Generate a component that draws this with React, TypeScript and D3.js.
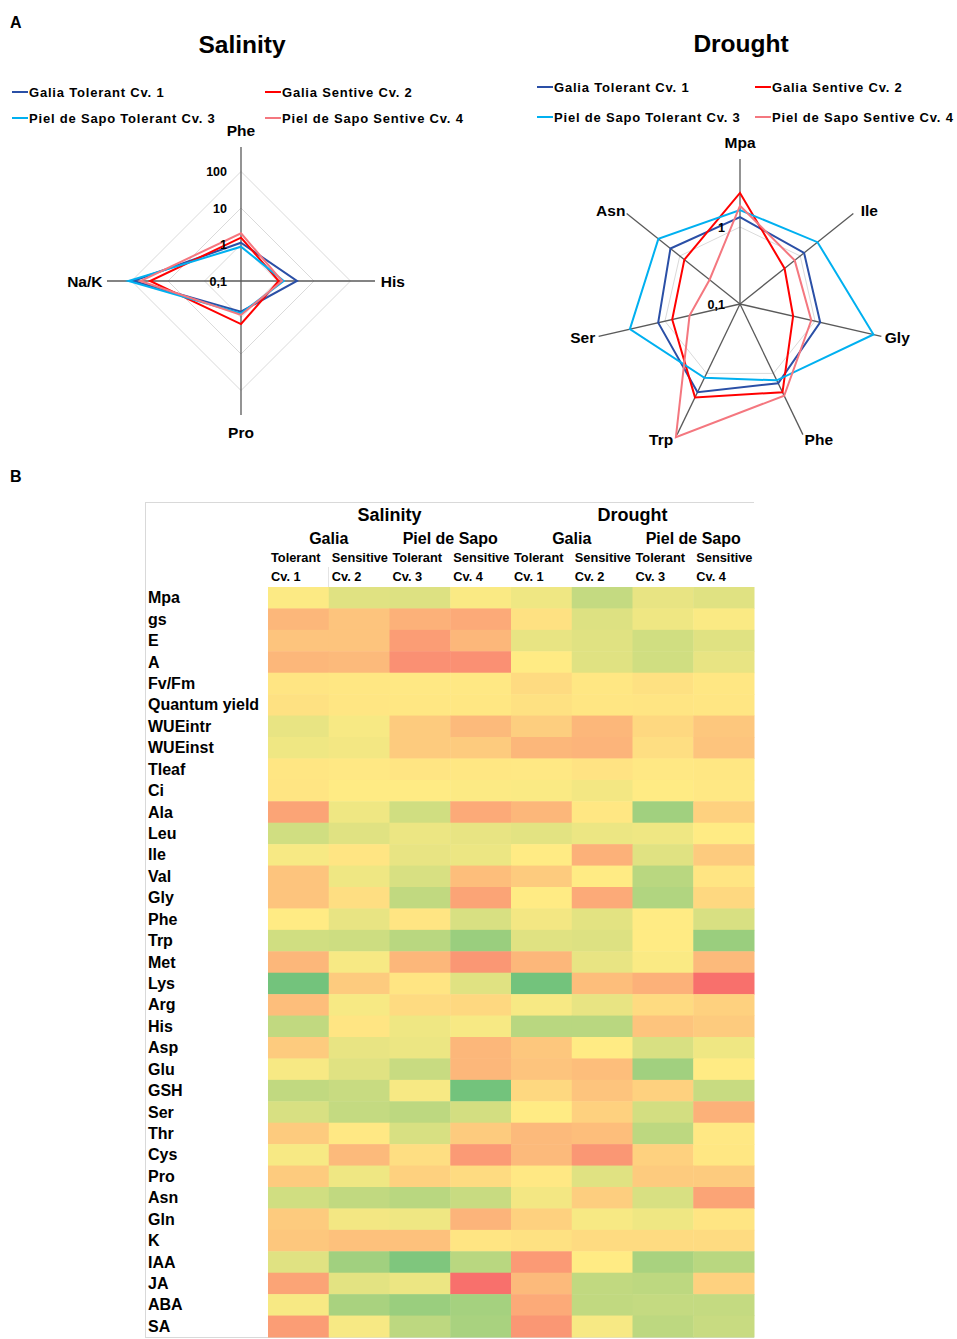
// React
import React from 'react';

// Installed Packages
import * as d3 from 'd3';

// ---- Panel A data (radar, log scale, 0.1 at the centre) ----
const seriesNames = [
    "Galia Tolerant Cv. 1",
    "Galia Sentive Cv. 2",
    "Piel de Sapo Tolerant Cv. 3",
    "Piel de Sapo Sentive Cv. 4",
];
const seriesColors = ["#2A4FA6", "#FF0000", "#00B0F0", "#F4777F"];

const salinityAxes = ["Phe", "His", "Pro", "Na/K"];
const salinityCv1 = [1.12, 3.42, 0.69, 90];
const salinityCv2 = [1.54, 1.08, 1.51, 31];
const salinityCv3 = [0.87, 1.48, 0.77, 121];
const salinityCv4 = [2.03, 1.33, 0.85, 57];
const salinityTicks = [0.1, 1, 10, 100];

const droughtAxes = ["Mpa", "Ile", "Gly", "Phe", "Trp", "Ser", "Asn"];
const droughtCv1 = [1.34, 1.16, 1.17, 1.39, 1.87, 1.23, 1.43];
const droughtCv2 = [2.77, 0.55, 0.51, 1.87, 2.22, 0.80, 0.84];
const droughtCv3 = [1.66, 1.94, 6.0, 1.26, 1.16, 2.93, 2.27];
const droughtCv4 = [1.89, 0.81, 0.89, 2.10, 8.3, 0.47, 0.32];
const droughtTicks = [0.1, 1];

// ---- Panel B data (heatmap, -1 = red, 0 = yellow, 1 = green) ----
const stresses = ["Salinity", "Drought"];
const varieties = ["Galia", "Piel de Sapo"];
const tolerance = ["Tolerant", "Sensitive"];
const cultivars = ["Cv. 1", "Cv. 2", "Cv. 3", "Cv. 4"];

const rowLabels = [
    "Mpa", "gs", "E", "A", "Fv/Fm", "Quantum yield", "WUEintr", "WUEinst", "Tleaf", "Ci",
    "Ala", "Leu", "Ile", "Val", "Gly", "Phe", "Trp", "Met", "Lys", "Arg", "His", "Asp",
    "Glu", "GSH", "Ser", "Thr", "Cys", "Pro", "Asn", "Gln", "K", "IAA", "JA", "ABA", "SA",
];

// columns: Salinity Cv1..Cv4, Drought Cv1..Cv4
const heatValues = [
    [0.02, 0.2, 0.22, 0.03, 0.1, 0.38, 0.15, 0.2],
    [-0.4, -0.3, -0.45, -0.5, -0.08, 0.22, 0.1, 0.03],
    [-0.3, -0.3, -0.6, -0.4, 0.15, 0.2, 0.3, 0.2],
    [-0.4, -0.38, -0.7, -0.7, 0.0, 0.2, 0.3, 0.15],
    [-0.05, -0.03, -0.02, -0.02, -0.12, -0.03, -0.08, -0.03],
    [-0.08, -0.04, -0.03, -0.03, -0.08, -0.04, -0.05, -0.04],
    [0.15, 0.05, -0.25, -0.38, -0.22, -0.4, -0.15, -0.28],
    [0.1, 0.08, -0.25, -0.25, -0.4, -0.42, -0.1, -0.3],
    [-0.04, -0.02, -0.05, -0.03, -0.02, -0.06, -0.02, -0.03],
    [-0.05, 0.0, 0.0, 0.02, 0.03, 0.08, 0.0, -0.02],
    [-0.55, 0.1, 0.3, -0.5, -0.4, -0.03, 0.6, -0.2],
    [0.3, 0.2, 0.12, 0.15, 0.18, 0.12, 0.1, 0.0],
    [0.05, -0.05, 0.15, 0.12, 0.0, -0.45, 0.2, -0.25],
    [-0.3, 0.1, 0.25, -0.35, -0.25, 0.0, 0.45, -0.05],
    [-0.3, -0.1, 0.4, -0.55, 0.0, -0.5, 0.5, -0.15],
    [0.0, 0.15, -0.05, 0.25, 0.08, 0.18, 0.0, 0.25],
    [0.3, 0.32, 0.45, 0.65, 0.2, 0.22, 0.0, 0.65],
    [-0.4, 0.05, -0.4, -0.65, -0.4, 0.15, 0.03, -0.38],
    [0.9, -0.25, -0.05, 0.2, 0.9, -0.35, -0.45, -0.95],
    [-0.35, 0.05, -0.12, -0.15, 0.05, 0.15, -0.12, -0.2],
    [0.4, -0.05, 0.1, 0.05, 0.45, 0.45, -0.3, -0.25],
    [-0.25, 0.15, 0.12, -0.4, -0.28, 0.0, 0.25, 0.1],
    [0.05, 0.2, 0.35, -0.4, -0.3, -0.35, 0.6, 0.0],
    [0.4, 0.35, 0.05, 0.9, -0.15, -0.3, -0.2, 0.35],
    [0.25, 0.38, 0.42, 0.28, 0.0, -0.2, 0.28, -0.45],
    [-0.25, -0.02, 0.25, -0.25, -0.38, -0.35, 0.42, -0.02],
    [0.05, -0.38, -0.1, -0.62, -0.38, -0.65, -0.2, -0.03],
    [-0.25, 0.1, -0.2, -0.12, -0.02, 0.2, -0.25, -0.25],
    [0.3, 0.4, 0.45, 0.35, 0.08, -0.22, 0.25, -0.55],
    [-0.25, 0.08, 0.1, -0.42, -0.2, 0.05, 0.1, -0.05],
    [-0.28, -0.32, -0.32, -0.05, -0.08, -0.12, -0.12, -0.12],
    [0.2, 0.6, 0.82, 0.45, -0.62, 0.0, 0.55, 0.45],
    [-0.55, 0.18, 0.12, -0.95, -0.38, 0.4, 0.42, -0.2],
    [0.05, 0.55, 0.65, 0.58, -0.5, 0.4, 0.38, 0.38],
    [-0.6, 0.05, 0.42, 0.55, -0.65, 0.05, 0.42, 0.35],
];

const FONT = '"Liberation Sans", Arial, Helvetica, sans-serif';

function Radar(props: {
    title: string,
    titleY: number,
    cx: number,
    cy: number,
    axes: string[],
    series: number[][],
    maxValue: number,
    maxRadius: number,
    axisLength: number,
    ticks: number[],
    tickX: number,
    labelR: number,
    labelPadX: number,
    labelPadY: number,
    topLift: number,
    legendX: [number, number],
    legendY: [number, number],
}) {
    const r = d3.scaleLog().domain([0.1, props.maxValue]).range([0, props.maxRadius]);
    const n = props.axes.length;
    const angle = (i: number) => (i * 2 * Math.PI) / n;
    const pt = (i: number, rad: number): [number, number] => [
        props.cx + rad * Math.sin(angle(i)),
        props.cy - rad * Math.cos(angle(i)),
    ];
    const line = d3.line<[number, number]>().curve(d3.curveLinearClosed);

    return (
        <g fontFamily={FONT} fontWeight="bold">
            <text x={props.cx + 1} y={props.titleY} textAnchor="middle" fontSize={24.5}>{props.title}</text>

            {/* legend */}
            {seriesNames.map((name, k) => {
                const x = props.legendX[k % 2];
                const y = props.legendY[Math.floor(k / 2)];
                return (
                    <g key={name}>
                        <line x1={x} x2={x + 16} y1={y} y2={y} stroke={seriesColors[k]} strokeWidth={2} />
                        <text x={x + 17} y={y + 4.5} fontSize={13} letterSpacing={0.8}>{name}</text>
                    </g>
                );
            })}

            {/* grid rings */}
            {props.ticks.filter(t => t > 0.1).map(t => (
                <path key={t} d={line(props.axes.map((_, i) => pt(i, r(t))))!}
                    fill="none" stroke="#DADADA" strokeWidth={1} />
            ))}

            {/* axes */}
            {props.axes.map((a, i) => {
                const [x2, y2] = pt(i, props.axisLength);
                return <line key={a} x1={props.cx} y1={props.cy} x2={x2} y2={y2} stroke="#5A5A5A" strokeWidth={1.3} />;
            })}

            {/* series */}
            {props.series.map((vals, k) => (
                <path key={k} d={line(vals.map((v, i) => pt(i, r(v))))!}
                    fill="none" stroke={seriesColors[k]} strokeWidth={2} strokeLinejoin="miter" />
            ))}

            {/* tick labels */}
            {props.ticks.map(t => (
                <text key={t} x={props.tickX} y={props.cy - r(t) + 4.5} textAnchor="end" fontSize={12.5}>
                    {String(t).replace('.', ',')}
                </text>
            ))}

            {/* axis labels */}
            {props.axes.map((a, i) => {
                const [x, y] = pt(i, props.labelR);
                const w = a.length * 8.6;
                const s = Math.sin(angle(i)), c = Math.cos(angle(i));
                const dx = Math.abs(s) > 0.3 ? Math.sign(s) * (w / 2 + props.labelPadX) : s * (w / 2);
                const dy = -c * props.labelPadY - (i === 0 ? props.topLift : 0);
                return (
                    <text key={a} x={x + dx} y={y + dy + 5.5} textAnchor="middle" fontSize={15.5}>{a}</text>
                );
            })}
        </g>
    );
}

function Heatmap() {
    const x = d3.scaleBand<number>().domain(d3.range(8)).range([268, 754]);
    const y = d3.scaleBand<string>().domain(rowLabels).range([587, 1337]);
    const color = d3.scaleLinear<string>().domain([-1, 0, 1])
        .range(["#F8696B", "#FFEB84", "#63BE7B"]).clamp(true);
    const bw = x.bandwidth();

    return (
        <g fontFamily={FONT} fontWeight="bold">
            <line x1={145.5} x2={145.5} y1={502} y2={1338} stroke="#D9D9D9" />
            <line x1={145} x2={754} y1={502.5} y2={502.5} stroke="#D9D9D9" />
            <line x1={145} x2={754} y1={1337.5} y2={1337.5} stroke="#D9D9D9" />
            <line x1={328.5} x2={328.5} y1={567} y2={587} stroke="#E4E4E4" />

            {stresses.map((s, i) => (
                <text key={s} x={x(i * 4)! + bw * 2} y={521} textAnchor="middle" fontSize={18}>{s}</text>
            ))}
            {d3.range(4).map(j => (
                <text key={j} x={x(j * 2)! + bw} y={544} textAnchor="middle" fontSize={16}>{varieties[j % 2]}</text>
            ))}
            {d3.range(8).map(j => (
                <g key={j}>
                    <text x={x(j)! + 3} y={561.5} fontSize={12.8}>{tolerance[j % 2]}</text>
                    <text x={x(j)! + 3} y={581} fontSize={12.8}>{cultivars[j % 4]}</text>
                </g>
            ))}

            {rowLabels.map((lab, i) => (
                <g key={lab}>
                    <text x={148} y={y(lab)! + y.bandwidth() / 2 + 5.5} fontSize={16}>{lab}</text>
                    {heatValues[i].map((v, j) => (
                        <rect key={j} x={x(j)} y={y(lab)} width={bw + 0.5} height={y.bandwidth() + 0.5}
                            fill={color(v)} />
                    ))}
                </g>
            ))}
        </g>
    );
}

export default function App() {
    return (
        <svg width={957} height={1339} style={{ position: 'absolute', left: 0, top: 0, background: '#fff' }}>
            <rect width={957} height={1339} fill="#fff" />
            <text x={10} y={28} fontFamily={FONT} fontWeight="bold" fontSize={16}>A</text>
            <text x={10} y={482} fontFamily={FONT} fontWeight="bold" fontSize={16}>B</text>

            <Radar
                title="Salinity" titleY={53}
                cx={241} cy={281}
                axes={salinityAxes}
                series={[salinityCv1, salinityCv2, salinityCv3, salinityCv4]}
                maxValue={100} maxRadius={109.5} axisLength={134}
                ticks={salinityTicks} tickX={227}
                labelR={136} labelPadX={3} labelPadY={15} topLift={0}
                legendX={[12, 265]} legendY={[92, 118]}
            />
            <Radar
                title="Drought" titleY={52}
                cx={740} cy={304}
                axes={droughtAxes}
                series={[droughtCv1, droughtCv2, droughtCv3, droughtCv4]}
                maxValue={1} maxRadius={77} axisLength={145}
                ticks={droughtTicks} tickX={725}
                labelR={145} labelPadX={3} labelPadY={5.6} topLift={11}
                legendX={[537, 755]} legendY={[87, 117]}
            />

            <Heatmap />
        </svg>
    );
}
